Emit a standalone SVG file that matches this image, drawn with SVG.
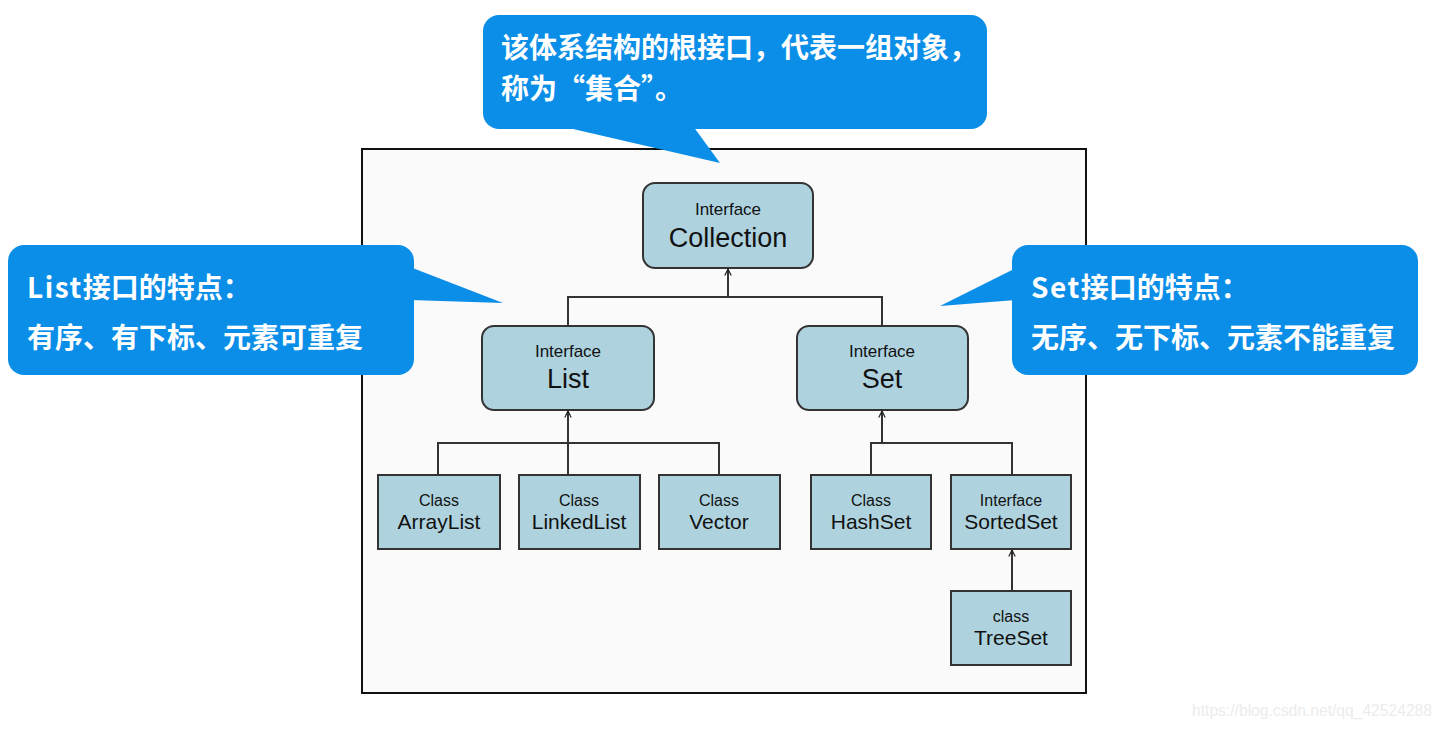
<svg xmlns="http://www.w3.org/2000/svg" width="1444" height="729" viewBox="0 0 1444 729">
<style>
.frame{fill:#fafafa;stroke:#111;stroke-width:2}
.bubble{fill:#0b8ee8}
.btxt{font-family:"Noto Sans CJK SC","Noto Sans",sans-serif;font-weight:bold;font-size:28px;fill:#fff}
.node{fill:#aed3df;stroke:#333;stroke-width:2}
.small{font-family:"Liberation Sans",Arial,sans-serif;font-size:16px;fill:#111;text-anchor:middle}
.mid{font-family:"Liberation Sans",Arial,sans-serif;font-size:21px;fill:#111;text-anchor:middle}
.big{font-family:"Liberation Sans",Arial,sans-serif;font-size:27px;fill:#111;text-anchor:middle}
.small2{font-family:"Liberation Sans",Arial,sans-serif;font-size:17px;fill:#111;text-anchor:middle}
.conn{fill:none;stroke:#333;stroke-width:2}
.wm{font-family:"Liberation Sans",Arial,sans-serif;font-size:16px;fill:#ececec}
</style>
<defs>
<marker id="arr" viewBox="0 0 10 10" refX="9" refY="5" markerWidth="8" markerHeight="8" orient="auto" markerUnits="userSpaceOnUse">
<path d="M1,1 L9,5 L1,9" fill="none" stroke="#222" stroke-width="1.5"/>
</marker>
</defs>
<rect width="1444" height="729" fill="#ffffff"/>
<rect class="frame" x="362" y="149" width="724" height="544"/>

<g id="connectors">
<path class="conn" d="M568,326 V297 H882 V326"/>
<path class="conn" d="M728,297 V269" marker-end="url(#arr)"/>
<path class="conn" d="M438,475 V443 H719 V475"/>
<path class="conn" d="M568,475 V411" marker-end="url(#arr)"/>
<path class="conn" d="M871,475 V443 H1012 V475"/>
<path class="conn" d="M882,443 V411" marker-end="url(#arr)"/>
<path class="conn" d="M1012,591 V550" marker-end="url(#arr)"/>
</g>

<g id="collection">
<rect class="node" x="643" y="183" width="170" height="85" rx="12"/>
<text class="small2" x="728" y="215">Interface</text>
<text class="big" x="728" y="247">Collection</text>
</g>
<g id="list">
<rect class="node" x="482" y="326" width="172" height="84" rx="12"/>
<text class="small2" x="568" y="357">Interface</text>
<text class="big" x="568" y="388">List</text>
</g>
<g id="set">
<rect class="node" x="797" y="326" width="171" height="84" rx="12"/>
<text class="small2" x="882" y="357">Interface</text>
<text class="big" x="882" y="388">Set</text>
</g>
<g id="arraylist">
<rect class="node" x="378" y="475" width="122" height="74"/>
<text class="small" x="439" y="506">Class</text>
<text class="mid" x="439" y="529">ArrayList</text>
</g>
<g id="linkedlist">
<rect class="node" x="519" y="475" width="121" height="74"/>
<text class="small" x="579" y="506">Class</text>
<text class="mid" x="579" y="529">LinkedList</text>
</g>
<g id="vector">
<rect class="node" x="659" y="475" width="121" height="74"/>
<text class="small" x="719" y="506">Class</text>
<text class="mid" x="719" y="529">Vector</text>
</g>
<g id="hashset">
<rect class="node" x="811" y="475" width="120" height="74"/>
<text class="small" x="871" y="506">Class</text>
<text class="mid" x="871" y="529">HashSet</text>
</g>
<g id="sortedset">
<rect class="node" x="951" y="475" width="120" height="74"/>
<text class="small" x="1011" y="506">Interface</text>
<text class="mid" x="1011" y="529">SortedSet</text>
</g>
<g id="treeset">
<rect class="node" x="951" y="591" width="120" height="74"/>
<text class="small" x="1011" y="622">class</text>
<text class="mid" x="1011" y="645">TreeSet</text>
</g>

<g id="callout-top">
<rect class="bubble" x="483" y="15" width="504" height="114" rx="16"/>
<path class="bubble" d="M560,126 L720,163 L693,126 Z"/>
<text class="btxt" x="501" y="58">该体系结构的根接口，代表一组对象，</text>
<text class="btxt" x="501" y="99">称为“集合”。</text>
</g>
<g id="callout-list">
<rect class="bubble" x="8" y="245" width="406" height="130" rx="16"/>
<path class="bubble" d="M410,267 L503,303 L410,300 Z"/>
<text class="btxt" x="27" y="298"><tspan letter-spacing="1.5">List</tspan>接口的特点：</text>
<text class="btxt" x="27" y="348">有序、有下标、元素可重复</text>
</g>
<g id="callout-set">
<rect class="bubble" x="1012" y="245" width="406" height="130" rx="16"/>
<path class="bubble" d="M1016,268 L940,306 L1016,300 Z"/>
<text class="btxt" x="1031" y="298"><tspan letter-spacing="1.5">Set</tspan>接口的特点：</text>
<text class="btxt" x="1031" y="348">无序、无下标、元素不能重复</text>
</g>

<text class="wm" x="1192" y="716" textLength="240" lengthAdjust="spacingAndGlyphs">https://blog.csdn.net/qq_42524288</text>
</svg>
